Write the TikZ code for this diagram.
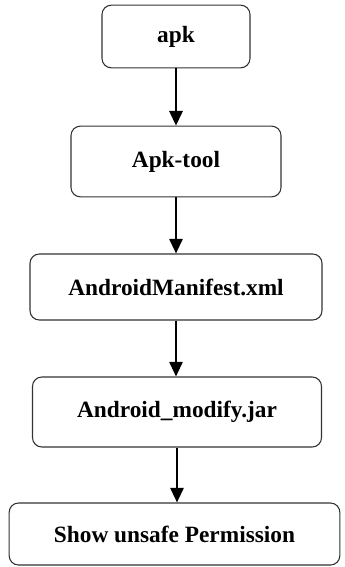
\documentclass[tikz,border=0pt]{standalone}
\usepackage{fontspec}
\setmainfont{Liberation Serif}
\usetikzlibrary{arrows.meta}
\tikzset{
  stage/.style={draw=black!80, line width=0.8pt, rounded corners=7pt,
    font=\fontsize{17.5}{20}\selectfont\bfseries, align=center, inner sep=0pt},
  flow/.style={line width=1.5pt, -{Triangle[width=10pt,length=11pt]}}
}
\begin{document}
\begin{tikzpicture}[x=0.75pt,y=-0.75pt]
  \useasboundingbox (0,0) rectangle (344,567);

  % boxes
  \node[stage, minimum width=111pt, minimum height=47pt] (apk) at (176,36.5) {apk};
  \node[stage, minimum width=157.5pt, minimum height=53pt] (apktool) at (176,161.5) {Apk-tool};
  \node[stage, minimum width=219pt, minimum height=49.5pt] (manifest) at (176,287) {AndroidManifest.xml};
  \node[stage, minimum width=216.75pt, minimum height=52.5pt] (modify) at (177,412) {Android\_modify.jar};
  \node[stage, minimum width=248pt, minimum height=46.5pt] (perm) at (174.5,534) {Show unsafe Permission};

  % arrows
  \draw[flow] (apk.south) -- (apk.south |- apktool.north);
  \draw[flow] (apktool.south) -- (apktool.south |- manifest.north);
  \draw[flow] (manifest.south) -- (manifest.south |- modify.north);
  \draw[flow] (modify.south) -- (modify.south |- perm.north);
\end{tikzpicture}
\end{document}
